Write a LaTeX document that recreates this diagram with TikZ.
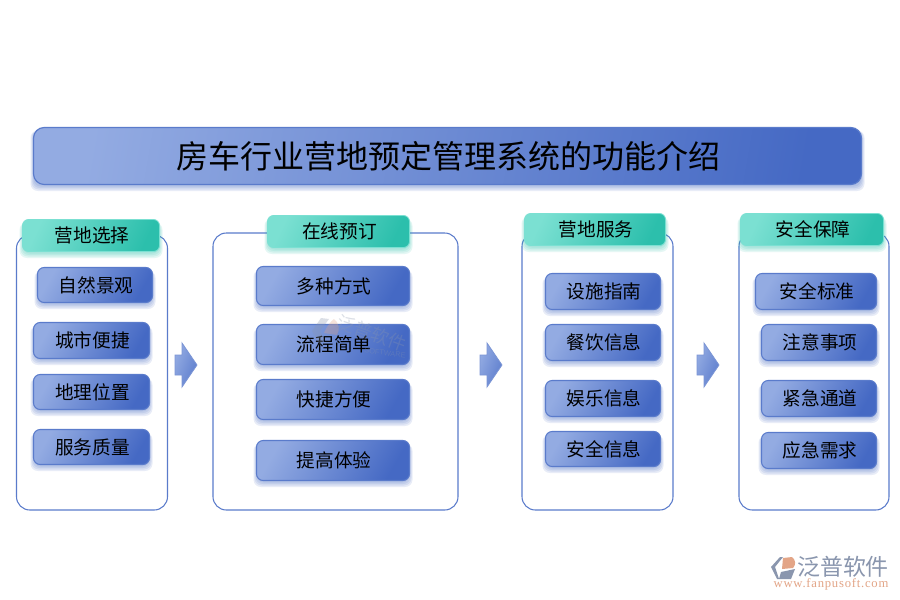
\documentclass[tikz,border=0pt]{standalone}
\usepackage{fontspec}
\setmainfont{Noto Sans CJK SC}
\newfontfamily\urlf[LetterSpace=6]{Liberation Serif}
\newfontfamily\latinf{Liberation Sans}
\definecolor{bluea}{HTML}{93ABE2}
\definecolor{bluem}{HTML}{7F9BDA}
\definecolor{blueb}{HTML}{4569C4}
\definecolor{edgeb}{HTML}{5A7BCB}
\definecolor{teala}{HTML}{7BE0D2}
\definecolor{tealm}{HTML}{5CD5C5}
\definecolor{tealb}{HTML}{2CBFAC}
\definecolor{greyl}{HTML}{8A96AE}
\definecolor{orangel}{HTML}{E3A587}
\tikzset{
  x=0.75pt,y=-0.75pt,
  titlebox/.style={draw=edgeb,line width=0.9pt,rounded corners=8pt,left color=bluea,middle color=bluem,right color=blueb,shading angle=80,inner sep=0pt,font=\fontsize{24}{28}\selectfont,text=black},
  itembox/.style={draw=edgeb,line width=0.8pt,rounded corners=5pt,left color=bluea,middle color=bluem,right color=blueb,shading angle=60,inner sep=0pt,font=\fontsize{14}{16}\selectfont,text=black},
  headbox/.style={draw=teala,line width=0.6pt,rounded corners=4.5pt,left color=teala,middle color=tealm,right color=tealb,shading angle=65,inner sep=0pt,font=\fontsize{14}{16}\selectfont,text=black},
  panelbox/.style={draw=edgeb,line width=0.8pt,rounded corners=10pt,fill=white,inner sep=0pt},
  blockarrow/.style={draw=edgeb!80,line width=0.6pt,left color=bluea,right color=blueb!70!bluea,shading angle=70},
}
% soft shadow: stacked translucent rounded rectangles, below the box
\newcommand{\softsh}[5]{%
  \foreach \g in {3,2,1,0}{%
    \fill[#1,opacity=0.12,rounded corners=5.5pt]
      ({#2-#4/2-\g},{#3-#5/2+3}) rectangle ({#2+#4/2+\g},{#3+#5/2+2+\g*1.5});
  }}
\newcommand{\bx}[7]{\node[#1,minimum width=#5*0.75pt,minimum height=#6*0.75pt] (#2) at (#3,#4) {#7};}
\newcommand{\ib}[6]{\softsh{blueb}{#2}{#3}{#4}{#5}\bx{itembox}{#1}{#2}{#3}{#4}{#5}{\hspace*{1.5pt}#6}}
\newcommand{\hb}[6]{\softsh{tealb}{#2}{#3}{#4}{#5}\bx{headbox}{#1}{#2}{#3}{#4}{#5}{\hspace*{1.5pt}#6}}
\newcommand{\barrow}[2]{\draw[blockarrow] (#1,#2-10) -- (#1+7,#2-10) -- (#1+7,#2-22) -- (#1+22,#2) -- (#1+7,#2+22) -- (#1+7,#2+10) -- (#1,#2+10) -- cycle;}
\begin{document}
\begin{tikzpicture}
\useasboundingbox (0,0) rectangle (900,600);
\fill[white] (0,0) rectangle (900,600);
% title
\softsh{blueb}{447.5}{156}{828}{57}
\bx{titlebox}{title}{447.5}{156}{828}{57}{\hspace*{1pt}房车行业营地预定管理系统的功能介绍}
% panels
\bx{panelbox}{p1}{92}{372.5}{151}{275}{}
\bx{panelbox}{p2}{335.5}{371.5}{245}{277}{}
\bx{panelbox}{p3}{597.5}{371.5}{151}{277}{}
\bx{panelbox}{p4}{814}{371.5}{150}{277}{}
% headers
\hb{h1}{91}{235.5}{137}{32}{营地选择}
\hb{h2}{338.5}{231.5}{142}{32}{在线预订}
\hb{h3}{595}{229.5}{141}{32}{营地服务}
\hb{h4}{812}{229.5}{143}{32}{安全保障}
% items
\ib{a1}{95}{285}{115}{35}{自然景观}
\ib{a2}{91.5}{340.5}{116}{36}{城市便捷}
\ib{a3}{91.5}{392}{116}{35}{地理位置}
\ib{a4}{91.5}{447}{116}{35}{服务质量}
\ib{b1}{333}{286}{153}{39}{多种方式}
\ib{b2}{333}{344.5}{153}{40}{流程简单}
\ib{b3}{333}{399.5}{153}{40}{快捷方便}
\ib{b4}{333}{460.5}{153}{40}{提高体验}
\ib{c1}{603}{291.5}{115}{36}{设施指南}
\ib{c2}{603}{342.5}{115}{36}{餐饮信息}
\ib{c3}{603}{398.5}{115}{36}{娱乐信息}
\ib{c4}{603}{449}{115}{35}{安全信息}
\ib{d1}{816}{291.5}{121}{36}{安全标准}
\ib{d2}{819}{342.5}{115}{36}{注意事项}
\ib{d3}{819}{398.5}{115}{36}{紧急通道}
\ib{d4}{819}{450.5}{115}{36}{应急需求}
% arrows
\barrow{175}{365}
\barrow{480}{365}
\barrow{697}{365}
% watermark
\begin{scope}[opacity=0.3]
\fill[greyl] (321,318) -- (312,331) -- (320,345) -- (324,339) -- (320,331) -- (329,319) -- cycle;
\fill[orangel] (324,333) .. controls (327,326) and (331,321) .. (334,319) .. controls (339,322) and (340,330) .. (337,335) -- cycle;
\node[text=greyl,font=\fontsize{13.5}{14}\selectfont,rotate=-20,inner sep=0pt] (wm) at (372,333) {泛普软件};
\node[text=greyl,font=\latinf\fontsize{5.5}{6}\selectfont,rotate=-8,inner sep=0pt] (wm2) at (385,353) {SOFTWARE};
\end{scope}
% logo
\fill[greyl] (780,557) -- (783,557) -- (775,567) -- (779,579) -- (777,579) -- (771,567) -- cycle;
\fill[greyl] (781,572) -- (795,569) -- (791,579) -- (779,579) -- cycle;
\fill[orangel] (783,558) -- (792,557) .. controls (796,560) and (796,565) .. (793,568) -- (782,569) -- cycle;
\node[text=greyl,font=\fontsize{17.2}{18}\selectfont,inner sep=0pt] (brand) at (843,567) {泛普软件};
\node[text=orangel,font=\urlf\fontsize{9.5}{10}\selectfont,inner sep=0pt] (url) at (831,584) {www.fanpusoft.com};
\end{tikzpicture}
\end{document}
